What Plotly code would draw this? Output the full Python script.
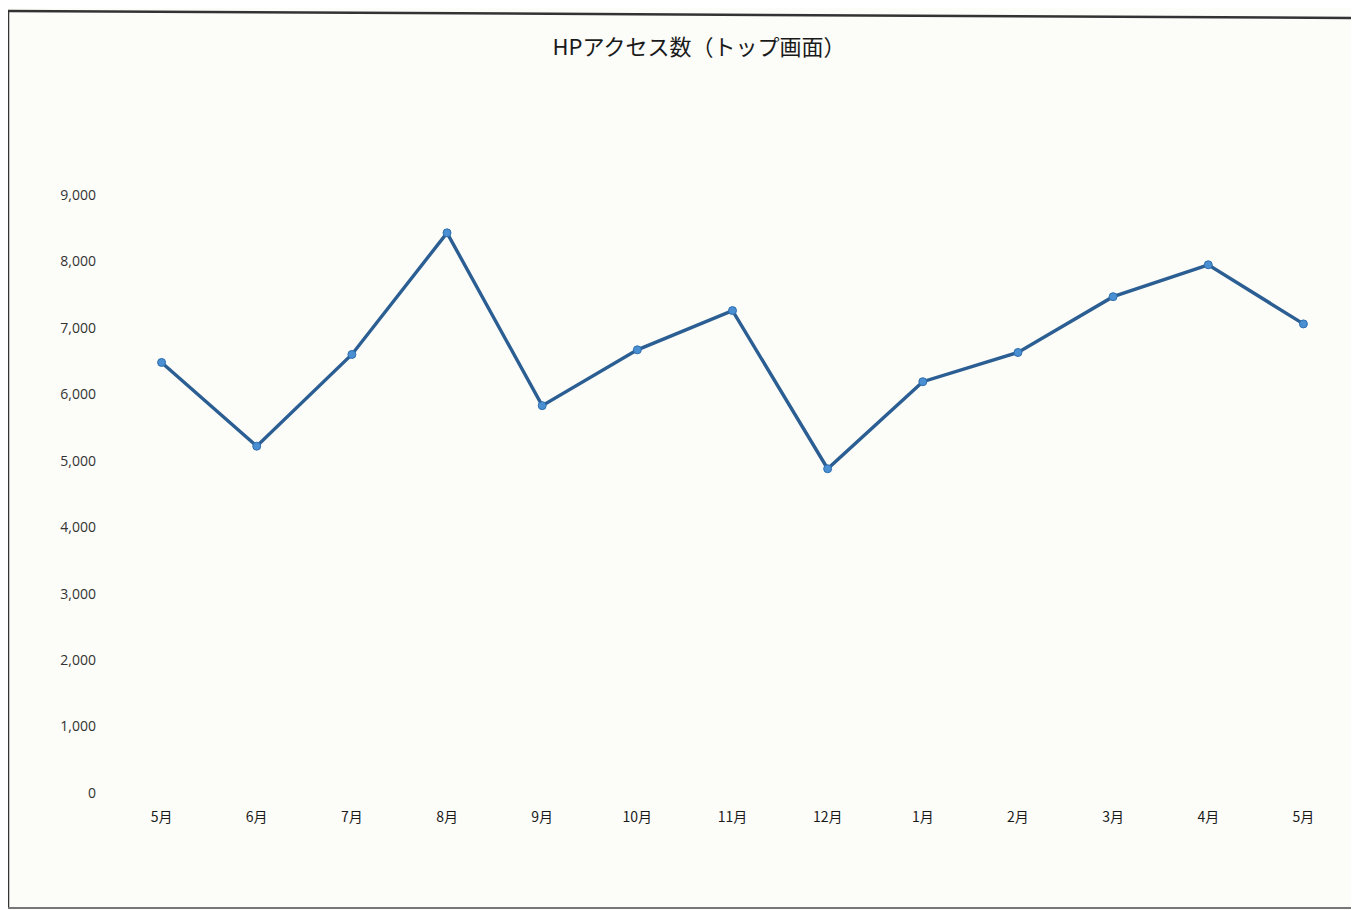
import plotly.graph_objects as go

title = "HPアクセス数（トップ画面）"
months = ["5月", "6月", "7月", "8月", "9月", "10月", "11月", "12月", "1月", "2月", "3月", "4月", "5月"]
access = [6480, 5220, 6600, 8430, 5830, 6670, 7260, 4880, 6190, 6630, 7470, 7950, 7060]
y_ticks = [0, 1000, 2000, 3000, 4000, 5000, 6000, 7000, 8000, 9000]
y_tick_text = ["0", "1,000", "2,000", "3,000", "4,000", "5,000", "6,000", "7,000", "8,000", "9,000"]

OFF = 8  # page body margin
W, H = 1359 - OFF, 910 - OFF
L, R, T, B = 114 - OFF, 8, 195 - OFF, 117
pw, ph = W - L - R, H - T - B


def px(x):
    return (x - OFF - L) / pw


def py(y):
    return (H - B - (y - OFF)) / ph


x_idx = list(range(len(months)))

fig = go.Figure()
fig.add_trace(go.Scatter(
    x=x_idx, y=access, mode="lines+markers",
    line=dict(color="#2b5e92", width=3.4),
    marker=dict(size=8, color="#4a8fd2", line=dict(color="#2f6fae", width=1)),
    showlegend=False,
))

fig.update_layout(
    width=W, height=H,
    margin=dict(l=L, r=R, t=T, b=B),
    paper_bgcolor="#fcfcf8", plot_bgcolor="#fcfcf8",
    title=dict(text=title, x=(699 - OFF) / W, xanchor="center", y=1 - (47 - OFF) / H, yanchor="middle",
               font=dict(family="Noto Sans CJK JP", size=22, color="#1a1a1a")),
    font=dict(family="Noto Sans CJK JP", color="#222"),
    xaxis=dict(range=[-0.5, len(months) - 0.5], tickvals=x_idx, ticktext=months,
               showgrid=False, zeroline=False, showline=False, ticks="",
               tickfont=dict(size=14, family="Noto Sans CJK JP", color="#1a1a1a"),
               ticklabelstandoff=14, fixedrange=True),
    yaxis=dict(range=[0, 9000], tickvals=y_ticks, ticktext=y_tick_text,
               showgrid=False, zeroline=False, showline=False, ticks="",
               tickfont=dict(size=14, family="Open Sans", color="#333"),
               ticklabelstandoff=17, fixedrange=True),
    shapes=[
        dict(type="line", xref="paper", yref="paper", x0=px(8), y0=py(11), x1=px(1359), y1=py(18),
             line=dict(color="#333", width=2.5)),
        dict(type="line", xref="paper", yref="paper", x0=px(8), y0=py(11), x1=px(8), y1=py(908),
             line=dict(color="#333", width=2.5)),
        dict(type="line", xref="paper", yref="paper", x0=px(8), y0=py(908), x1=px(1359), y1=py(908),
             line=dict(color="#777", width=2)),
    ],
)

fig.write_html("out.html")
